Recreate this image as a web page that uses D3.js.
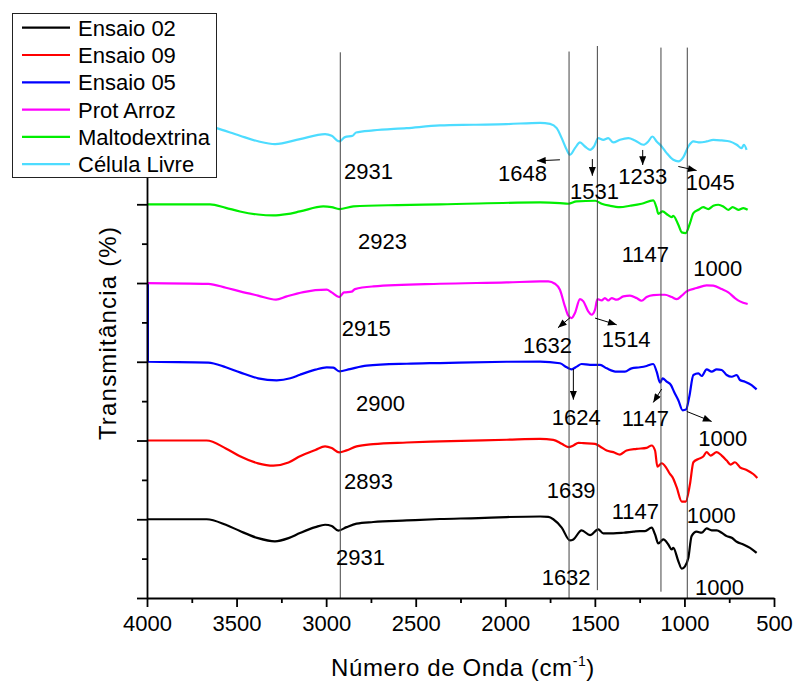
<!DOCTYPE html>
<html>
<head>
<meta charset="utf-8">
<script src="https://cdn.jsdelivr.net/npm/d3@7"></script>
<style>
  body { margin: 0; background: #fff; }
  svg text { font-family: Arial, "Liberation Sans", sans-serif; fill: #000; }
</style>
</head>
<body>
<svg id="chart" width="796" height="682"></svg>
<script>
// FTIR spectra: [wavenumber (cm-1), transmittance (offset, arbitrary units)]
const seriesNames = ["Ensaio 02", "Ensaio 09", "Ensaio 05", "Prot Arroz", "Maltodextrina", "Célula Livre"];
const seriesColors = ["#000000", "#ff0000", "#0000ff", "#ff00ff", "#00ee00", "#4ddcff"];

const ensaio02 = [
  [4000,1.00],[3667,1.00],[3560,0.93],[3481,0.85],[3380,0.76],[3286,0.72],[3210,0.76],[3146,0.825],
  [3060,0.90],[3006,0.93],[2969,0.915],[2932,0.855],[2886,0.90],[2830,0.944],[2737,0.965],[2550,0.985],
  [2365,1.003],[2150,1.015],[1992,1.028],[1806,1.035],[1760,1.03],[1732,1.00],[1685,0.893],[1639,0.731],
  [1620,0.744],[1574,0.859],[1527,0.799],[1481,0.872],[1453,0.821],[1397,0.821],[1341,0.829],[1285,0.842],
  [1248,0.85],[1220,0.85],[1183,0.893],[1164,0.808],[1146,0.693],[1118,0.744],[1090,0.68],[1071,0.616],
  [1062,0.637],[1034,0.467],[1015,0.373],[997,0.403],[978,0.51],[960,0.786],[932,0.842],[904,0.829],
  [876,0.884],[848,0.859],[820,0.859],[792,0.829],[764,0.786],[736,0.765],[708,0.714],[671,0.68],
  [634,0.637],[597,0.573]
];
const ensaio09 = [
  [4000,2.00],[3667,2.00],[3560,1.90],[3481,1.80],[3380,1.71],[3295,1.68],[3210,1.72],[3146,1.80],
  [3060,1.88],[3006,1.926],[2969,1.905],[2927,1.85],[2886,1.875],[2830,1.926],[2737,1.955],[2550,1.975],
  [2365,1.989],[1992,2.01],[1806,2.02],[1732,2.009],[1685,1.958],[1648,1.916],[1620,1.937],[1592,1.971],
  [1564,1.967],[1499,1.958],[1471,1.924],[1434,1.873],[1397,1.852],[1360,1.822],[1323,1.873],[1267,1.894],
  [1211,1.907],[1183,1.937],[1164,1.873],[1151,1.668],[1127,1.711],[1103,1.66],[1081,1.575],[1066,1.532],
  [1043,1.404],[1015,1.225],[993,1.225],[969,1.447],[950,1.724],[922,1.766],[895,1.796],[876,1.852],
  [854,1.809],[820,1.852],[792,1.809],[764,1.745],[742,1.694],[718,1.724],[690,1.66],[653,1.626],
  [616,1.575],[593,1.524]
];
const ensaio05 = [
  [3995,4.0],[3994.9,3.0],[3658,2.99],[3560,2.93],[3481,2.865],[3380,2.79],[3276,2.764],[3200,2.79],
  [3146,2.836],[3060,2.90],[2997,2.929],[2960,2.925],[2927,2.878],[2867,2.907],[2774,2.95],[2550,2.975],
  [2365,2.984],[1992,3.0],[1806,3.002],[1695,2.981],[1657,2.93],[1630,2.904],[1602,2.938],[1574,2.972],
  [1527,2.96],[1471,2.96],[1434,2.917],[1378,2.874],[1332,2.874],[1295,2.917],[1248,2.93],[1211,2.947],
  [1174,2.972],[1155,2.874],[1136,2.734],[1122,2.789],[1099,2.747],[1075,2.704],[1058,2.619],[1034,2.512],
  [1010,2.384],[991,2.393],[973,2.555],[950,2.832],[922,2.853],[904,2.819],[876,2.904],[848,2.874],
  [820,2.904],[792,2.896],[764,2.832],[736,2.81],[708,2.832],[690,2.768],[662,2.747],[625,2.704],
  [597,2.649]
];
const protArroz = [
  [4000,4.0],[3658,3.99],[3560,3.94],[3481,3.894],[3380,3.84],[3280,3.788],[3220,3.83],[3127,3.885],
  [2997,3.915],[2969,3.881],[2927,3.822],[2900,3.881],[2858,3.89],[2839,3.923],[2737,3.957],[2365,3.991],
  [1992,4.008],[1806,4.02],[1760,4.021],[1723,3.991],[1695,3.915],[1667,3.703],[1648,3.585],[1630,3.555],
  [1611,3.619],[1583,3.796],[1564,3.767],[1537,3.64],[1518,3.597],[1499,3.661],[1486,3.796],[1462,3.779],
  [1444,3.809],[1425,3.779],[1406,3.809],[1378,3.788],[1341,3.83],[1304,3.839],[1267,3.809],[1239,3.775],
  [1211,3.822],[1174,3.847],[1137,3.851],[1109,3.851],[1071,3.822],[1043,3.796],[1015,3.839],[988,3.894],
  [932,3.936],[876,3.97],[839,3.966],[792,3.923],[755,3.881],[718,3.809],[690,3.767],[647,3.733]
];
const maltodextrina = [
  [4000,5.0],[3648,5.0],[3560,4.955],[3481,4.909],[3380,4.87],[3295,4.859],[3220,4.875],[3146,4.909],
  [3016,4.973],[2970,4.965],[2927,4.939],[2848,4.973],[2600,4.99],[2365,4.998],[1806,5.024],[1695,5.015],
  [1648,5.007],[1602,5.036],[1499,5.045],[1462,5.007],[1416,4.981],[1360,4.964],[1304,4.981],[1239,5.007],
  [1174,5.049],[1155,4.951],[1146,4.879],[1122,4.909],[1094,4.867],[1071,4.837],[1062,4.854],[1034,4.74],
  [1015,4.643],[993,4.634],[969,4.761],[950,4.888],[922,4.93],[895,4.964],[867,4.939],[839,4.981],
  [811,4.994],[783,4.973],[755,4.93],[731,4.964],[699,4.93],[671,4.951],[647,4.93]
];
const celulaLivre = [
  [4000,6.0],[3660,6.0],[3611,5.967],[3481,5.87],[3380,5.80],[3285,5.764],[3146,5.828],[3006,5.891],
  [2969,5.87],[2927,5.798],[2895,5.853],[2852,5.87],[2833,5.912],[2737,5.938],[2551,5.967],[2365,6.001],
  [2178,6.01],[1992,6.018],[1806,6.035],[1750,6.022],[1713,5.967],[1685,5.84],[1657,5.692],[1639,5.629],
  [1611,5.713],[1583,5.785],[1555,5.734],[1527,5.692],[1505,5.734],[1481,5.84],[1453,5.819],[1425,5.84],
  [1397,5.785],[1360,5.819],[1313,5.84],[1276,5.811],[1229,5.756],[1202,5.798],[1179,5.861],[1155,5.798],
  [1127,5.734],[1099,5.65],[1062,5.565],[1034,5.544],[1006,5.599],[978,5.734],[950,5.798],[913,5.785],
  [876,5.798],[839,5.819],[792,5.811],[746,5.798],[708,5.756],[681,5.713],[668,5.756],[653,5.692]
];
const allSeries = [ensaio02, ensaio09, ensaio05, protArroz, maltodextrina, celulaLivre];

// Axis ticks
const xMajorTicks = [4000, 3500, 3000, 2500, 2000, 1500, 1000, 500];
const xMinorTicks = [3750, 3250, 2750, 2250, 1750, 1250, 750];
const yMajorTicks = [0, 1, 2, 3, 4, 5, 6, 7];
const yMinorTicks = [0.5, 1.5, 2.5, 3.5, 4.5, 5.5, 6.5];

// Reference lines marking the bands (wavenumber, top, bottom)
const bandLines = [2921, 1644, 1486, 1131, 984];
const bandLineTop = [6.93, 6.94, 7.01, 6.99, 6.99];
const bandLineBottom = [0, 0, 0.1, 0.08, 0];

// Peak labels: text, wavenumber of left edge, baseline level
const peakText = ["2931","1648","1531","1233","1045","2923","1147","1000","2915","1632","1514",
                  "2900","1624","1147","1000","2893","1639","1147","1000","2931","1632","1000"];
const peakWn   = [2900, 2041, 1639, 1369, 993, 2822, 1350, 951, 2913, 1901, 1462,
                  2833, 1741, 1350, 923, 2900, 1769, 1406, 987, 2945, 1797, 941];
const peakT    = [5.324, 5.29, 5.066, 5.256, 5.184, 4.435, 4.266, 4.083, 3.33, 3.111, 3.187,
                  2.378, 2.2, 2.179, 1.925, 1.388, 1.27, 1.007, 0.952, 0.416, 0.169, 0.033];

// Arrows from the band towards its label: [wn, T] start and end
const arrowFrom = [[1695,5.565],[1514,5.574],[1233,5.69],[1034,5.48],[1639,3.559],[1499,3.555],[1620,2.908],[1127,2.654],[987,2.369]];
const arrowTo   = [[1823,5.552],[1514,5.362],[1233,5.499],[932,5.429],[1706,3.432],[1378,3.47],[1620,2.519],[1174,2.483],[848,2.242]];

const svg = d3.select("#chart");
const x = d3.scaleLinear().domain([4000, 500]).range([147, 774]);
const y = d3.scaleLinear().domain([0, 7]).range([598, 46.8]);

// Marker for arrow heads
svg.append("defs").append("marker")
  .attr("id", "arrowHead")
  .attr("viewBox", "0 0 10 8")
  .attr("refX", 10).attr("refY", 4)
  .attr("markerWidth", 10).attr("markerHeight", 7)
  .attr("markerUnits", "userSpaceOnUse")
  .attr("orient", "auto")
  .append("path").attr("d", "M0,0 L10,4 L0,8 Z").attr("fill", "#000");

// Spectra
const line = d3.line()
  .x(d => x(d[0])).y(d => y(d[1]))
  .curve(d3.curveMonotoneX);

svg.append("g").selectAll("path")
  .data(allSeries)
  .join("path")
  .attr("d", line)
  .attr("fill", "none")
  .attr("stroke", (d, i) => seriesColors[i])
  .attr("stroke-width", 2.2)
  .attr("stroke-linejoin", "round");

// Band reference lines
svg.append("g").selectAll("line")
  .data(bandLines)
  .join("line")
  .attr("x1", d => x(d)).attr("x2", d => x(d))
  .attr("y1", (d, i) => y(bandLineTop[i]))
  .attr("y2", (d, i) => y(bandLineBottom[i]))
  .attr("stroke", "#444").attr("stroke-width", 1);

// Arrows
svg.append("g").selectAll("line")
  .data(arrowFrom)
  .join("line")
  .attr("x1", d => x(d[0])).attr("y1", d => y(d[1]))
  .attr("x2", (d, i) => x(arrowTo[i][0])).attr("y2", (d, i) => y(arrowTo[i][1]))
  .attr("stroke", "#000").attr("stroke-width", 1)
  .attr("marker-end", "url(#arrowHead)");

// Peak labels
svg.append("g").selectAll("text")
  .data(peakText)
  .join("text")
  .attr("x", (d, i) => x(peakWn[i]))
  .attr("y", (d, i) => y(peakT[i]))
  .attr("font-size", 22)
  .text(d => d);

// Axes
const xAxis = svg.append("g").attr("transform", `translate(0,${y(0)})`)
  .call(d3.axisBottom(x).tickValues(xMajorTicks).tickSize(9).tickPadding(8).tickSizeOuter(0).tickFormat(d3.format("d")));
xAxis.append("g").call(d3.axisBottom(x).tickValues(xMinorTicks).tickSize(5).tickFormat(""))
  .select(".domain").remove();
xAxis.selectAll("text").attr("font-size", 22).attr("font-family", "Arial, 'Liberation Sans', sans-serif").attr("fill", "#000");

const yAxis = svg.append("g").attr("transform", `translate(${x(4000)},0)`)
  .call(d3.axisLeft(y).tickValues(yMajorTicks).tickSize(10).tickSizeOuter(0).tickFormat(""));
yAxis.append("g").call(d3.axisLeft(y).tickValues(yMinorTicks).tickSize(5).tickFormat(""))
  .select(".domain").remove();

svg.selectAll(".domain, .tick line").attr("stroke", "#000").attr("stroke-width", 1.8);

// Axis titles
const xTitle = svg.append("text")
  .attr("x", 463).attr("y", 676)
  .attr("text-anchor", "middle").attr("font-size", 24).attr("letter-spacing", 0.6)
  .text("Número de Onda (cm");
xTitle.append("tspan").attr("font-size", 14).attr("dy", -10).text("-1");
xTitle.append("tspan").attr("dy", 10).text(")");

svg.append("text")
  .attr("transform", "translate(116,333) rotate(-90)")
  .attr("text-anchor", "middle").attr("font-size", 24).attr("letter-spacing", 1.2)
  .text("Transmitância (%)");

// Legend
const legend = svg.append("g");
legend.append("rect")
  .attr("x", 12.5).attr("y", 13.5).attr("width", 204).attr("height", 164)
  .attr("fill", "#fff").attr("stroke", "#222").attr("stroke-width", 1);
const rows = legend.selectAll("g.row")
  .data(seriesNames)
  .join("g").attr("class", "row")
  .attr("transform", (d, i) => `translate(0,${27.7 + i * 27.3})`);
rows.append("line")
  .attr("x1", 22).attr("x2", 70)
  .attr("stroke", (d, i) => seriesColors[i]).attr("stroke-width", 2.2);
rows.append("text")
  .attr("x", 78).attr("dy", "0.36em").attr("font-size", 22)
  .text(d => d);
</script>
</body>
</html>
